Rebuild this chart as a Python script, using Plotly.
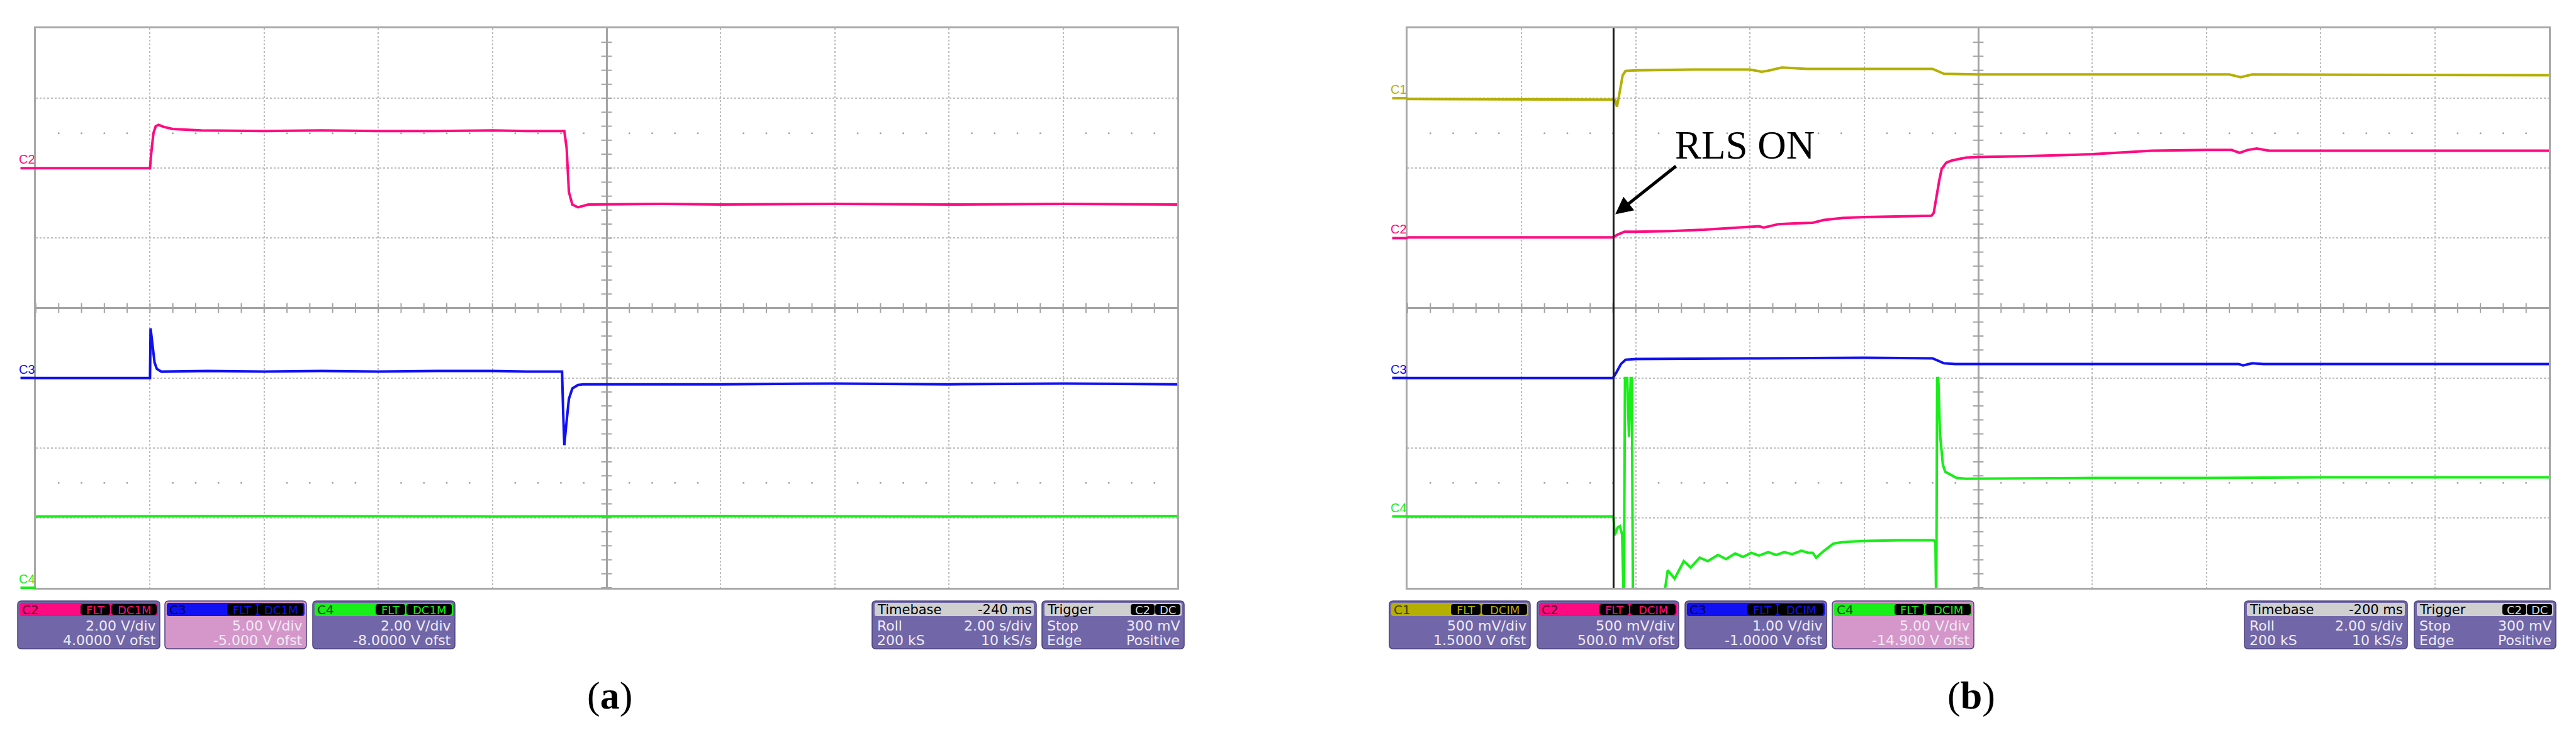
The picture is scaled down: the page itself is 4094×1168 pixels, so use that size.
import numpy as np
import plotly.graph_objects as go

W, H = 4094, 1168

# ---------------- data read off the two scope screens ----------------
# time in s (2 s/div, 0 = screen centre), values in volts

# (a)
a_c2_t = [-10.0, -8.0, -7.98, -7.94, -7.9, -7.85, -7.76, -7.6, -7.1, -6.0, -5.0, -4.0, -3.0, -2.0,
          -1.4, -0.74, -0.70, -0.66, -0.60, -0.50, -0.32, 1.0, 2.0, 4.0, 6.0, 8.0, 10.0]
a_c2_v = [0.0, 0.0, 0.4, 1.0, 1.2, 1.24, 1.18, 1.12, 1.08, 1.06, 1.08, 1.06, 1.06, 1.08,
          1.06, 1.06, 0.58, -0.68, -1.04, -1.12, -1.04, -1.02, -1.04, -1.02, -1.04, -1.02, -1.04]

a_c3_t = [-10.0, -8.0, -7.99, -7.97, -7.95, -7.92, -7.88, -7.8, -7.0, -6.0, -5.0, -4.0, -3.0, -2.0,
          -1.4, -0.78, -0.76, -0.74, -0.71, -0.66, -0.6, -0.5, -0.4, 2.0, 4.0, 6.0, 8.0, 10.0]
a_c3_v = [0.0, 0.0, 3.55, 2.75, 1.9, 1.1, 0.65, 0.45, 0.5, 0.45, 0.5, 0.45, 0.5, 0.5,
          0.45, 0.45, -2.5, -4.8, -3.5, -1.5, -0.75, -0.5, -0.45, -0.45, -0.4, -0.45, -0.4, -0.45]

a_c4_t = [-10.0, -6.0, -2.0, 2.0, 6.0, 10.0]
a_c4_v = [2.04, 2.05, 2.04, 2.05, 2.04, 2.05]

# (b)
b_c1_t = [-10.0, -6.4, -6.36, -6.33, -6.28, -6.23, -6.18, -6.0, -5.0, -4.0, -3.8, -3.7, -3.44,
          -3.0, -2.0, -0.8, -0.6, 0.0, 4.4, 4.6, 4.8, 10.0]
b_c1_v = [-0.005, -0.01, -0.015, -0.06, 0.05, 0.165, 0.195, 0.2, 0.205, 0.205, 0.19, 0.195, 0.22,
          0.21, 0.21, 0.21, 0.175, 0.17, 0.17, 0.15, 0.17, 0.165]

b_c2_t = [-10.0, -6.4, -6.32, -6.2, -6.0, -5.4, -4.8, -4.0, -3.84, -3.76, -3.5, -3.22, -2.9, -2.7,
          -2.36, -2.0, -1.4, -0.82, -0.78, -0.74, -0.68, -0.64, -0.56, -0.46, -0.22, 0.0, 0.78,
          2.0, 3.04, 4.0, 4.44, 4.58, 4.72, 4.88, 5.1, 6.0, 8.0, 10.0]
b_c2_v = [0.005, 0.005, 0.025, 0.045, 0.045, 0.05, 0.06, 0.08, 0.085, 0.075, 0.1, 0.105, 0.11, 0.13,
          0.145, 0.15, 0.155, 0.16, 0.18, 0.285, 0.42, 0.495, 0.54, 0.555, 0.575, 0.58, 0.585,
          0.6, 0.625, 0.63, 0.63, 0.61, 0.63, 0.64, 0.625, 0.625, 0.625, 0.625]

b_c3_t = [-10.0, -6.4, -6.34, -6.26, -6.18, -6.0, -4.0, -2.0, -0.8, -0.74, -0.6, -0.4, 4.56, 4.64,
          4.8, 5.0, 10.0]
b_c3_v = [0.0, 0.0, 0.08, 0.2, 0.26, 0.27, 0.28, 0.29, 0.28, 0.26, 0.21, 0.2, 0.2, 0.18,
          0.21, 0.2, 0.2]

b_c4_t = [-10.0, -6.4, -6.39, -6.37, -6.32, -6.28, -6.24, -6.21, -6.19, -6.15, -6.12, -6.09, -6.07,
          -6.05, -5.54, -5.44, -5.32, -5.16, -5.04, -4.88, -4.74, -4.56, -4.42, -4.26, -4.12,
          -3.98, -3.84, -3.68, -3.54, -3.4, -3.26, -3.1, -2.98, -2.9, -2.84, -2.7, -2.54, -2.4,
          -2.24, -1.96, -1.34, -0.78, -0.75, -0.736, -0.72, -0.7, -0.67, -0.65, -0.62, -0.58,
          -0.5, -0.38, -0.22, 2.0, 4.0, 6.0, 8.0, 10.0]
b_c4_v = [0.0, 0.0, -0.1, -1.35, -0.8, -0.7, -1.3, -6.6, 9.9, 9.9, 5.7, 9.9, 9.9,
          -6.6, -6.6, -3.85, -4.45, -3.2, -3.65, -2.95, -3.2, -2.75, -3.05, -2.65, -2.9,
          -2.6, -2.8, -2.55, -2.75, -2.55, -2.7, -2.45, -2.6, -2.6, -2.95, -2.45, -1.95, -1.85,
          -1.8, -1.75, -1.7, -1.7, -1.9, -6.6, 9.9, 9.9, 5.9, 4.9, 3.7, 3.2,
          3.0, 2.75, 2.7, 2.75, 2.75, 2.8, 2.8, 2.8]

# channel settings (V/div, offset) and the text shown in the boxes
a_names = ["C2", "C3", "C4"]
a_vdiv = [2.0, 5.0, 2.0]
a_ofst = [4.0, -5.0, -8.0]
a_vdiv_txt = ["2.00 V/div", "5.00 V/div", "2.00 V/div"]
a_ofst_txt = ["4.0000 V ofst", "-5.000 V ofst", "-8.0000 V ofst"]

b_names = ["C1", "C2", "C3", "C4"]
b_vdiv = [0.5, 0.5, 1.0, 5.0]
b_ofst = [1.5, 0.5, -1.0, -14.9]
b_vdiv_txt = ["500 mV/div", "500 mV/div", "1.00 V/div", "5.00 V/div"]
b_ofst_txt = ["1.5000 V ofst", "500.0 mV ofst", "-1.0000 V ofst", "-14.900 V ofst"]

a_delay_txt, b_delay_txt = "-240 ms", "-200 ms"
a_trig_t, b_trig_t = 0.0, -0.2       # trigger position markers
trig_level = 0.3                      # 300 mV on C2
b_cursor_t = -6.39                    # "RLS ON" instant

# ---------------- styling ----------------
COL = {"C1": "#B4AF00", "C2": "#FF0A80", "C3": "#1010F5", "C4": "#18EE18"}
DARK = {"C1": "#3F3C00", "C2": "#5E0030", "C3": "#00004A", "C4": "#004A00"}
BODY, SEL, EDGE = "#7167A8", "#D597C9", "#4C427E"
BOXTXT = "#EFECF7"
SCOPE_FONT = "DejaVu Sans"
GRID, AXC, BORDER = "#BDBDBD", "#A3A3A3", "#A8A8A8"

Y_TOP, Y_BOT = 37, 926
PANEL_A = (49, 1863)
PANEL_B = (2229, 4043)

shapes, annots = [], []


def X(x):
    return x / W


def Y(y):
    return 1 - y / H


def rrect(x0, y0, x1, y1, r, fill, line=None, lw=0):
    p = (f"M {X(x0 + r)},{Y(y0)} L {X(x1 - r)},{Y(y0)} Q {X(x1)},{Y(y0)} {X(x1)},{Y(y0 + r)} "
         f"L {X(x1)},{Y(y1 - r)} Q {X(x1)},{Y(y1)} {X(x1 - r)},{Y(y1)} "
         f"L {X(x0 + r)},{Y(y1)} Q {X(x0)},{Y(y1)} {X(x0)},{Y(y1 - r)} "
         f"L {X(x0)},{Y(y0 + r)} Q {X(x0)},{Y(y0)} {X(x0 + r)},{Y(y0)} Z")
    shapes.append(dict(type="path", xref="paper", yref="paper", path=p, fillcolor=fill,
                       line=dict(color=line or fill, width=lw), layer="above"))


def txt(x, y, s, size, color, anchor="right", family=SCOPE_FONT):
    annots.append(dict(xref="paper", yref="paper", x=X(x), y=Y(y), text=s, showarrow=False,
                       xanchor=anchor, yanchor="middle", borderpad=0,
                       font=dict(size=size, color=color, family=family)))


def channel_box(x0, x1, name, vdiv_txt, ofst_txt, selected, badge):
    rrect(x0, 947, x1, 1023, 6, SEL if selected else BODY, EDGE, 1.5)
    rrect(x0 + 3, 950, x1 - 3, 971, 4, COL[name])
    b2 = (x1 - 77, x1 - 5)
    b1 = (b2[0] - 49, b2[0] - 2)
    for bx, lab in ((b1, "FLT"), (b2, badge)):
        rrect(bx[0], 952, bx[1], 969, 4, "black")
        txt((bx[0] + bx[1]) / 2, 961, lab, 18, COL[name], "center")
    txt(x0 + 6, 961, name, 20, DARK[name], "left")
    txt(x1 - 5, 986, vdiv_txt, 22, BOXTXT)
    txt(x1 - 5, 1009, ofst_txt, 22, BOXTXT)


def time_boxes(x0, x1, x2, x3, delay):
    rrect(x0, 947, x1, 1023, 6, BODY, EDGE, 1.5)
    rrect(x0 + 4, 950, x1 - 4, 971, 3, "#CFCFCF")
    txt(x0 + 7, 961, "Timebase", 21, "black", "left")
    txt(x1 - 6, 961, delay, 21, "black")
    txt(x0 + 7, 986, "Roll", 22, BOXTXT, "left")
    txt(x1 - 6, 986, "2.00 s/div", 22, BOXTXT)
    txt(x0 + 7, 1009, "200 kS", 22, BOXTXT, "left")
    txt(x1 - 6, 1009, "10 kS/s", 22, BOXTXT)

    rrect(x2, 947, x3, 1023, 6, BODY, EDGE, 1.5)
    rrect(x2 + 4, 950, x3 - 4, 971, 3, "#CFCFCF")
    txt(x2 + 7, 961, "Trigger", 21, "black", "left")
    for bx, lab in (((x3 - 85, x3 - 47), "C2"), ((x3 - 46, x3 - 6), "DC")):
        rrect(bx[0], 952, bx[1], 969, 4, "black")
        txt((bx[0] + bx[1]) / 2, 961, lab, 18, "#DADADA", "center")
    txt(x2 + 7, 986, "Stop", 22, BOXTXT, "left")
    txt(x3 - 6, 986, "300 mV", 22, BOXTXT)
    txt(x2 + 7, 1009, "Edge", 22, BOXTXT, "left")
    txt(x3 - 6, 1009, "Positive", 22, BOXTXT)


fig = go.Figure()

panels = [
    ("x", "y", a_names, a_vdiv, a_ofst,
     [(a_c2_t, a_c2_v), (a_c3_t, a_c3_v), (a_c4_t, a_c4_v)], a_trig_t),
    ("x2", "y2", b_names, b_vdiv, b_ofst,
     [(b_c1_t, b_c1_v), (b_c2_t, b_c2_v), (b_c3_t, b_c3_v), (b_c4_t, b_c4_v)], b_trig_t),
]

tick_x = np.arange(-10, 10.01, 0.4)
tick_y = np.arange(-4, 4.01, 0.2)
dot_x = [t for t in tick_x if abs(t / 2 - round(t / 2)) > 1e-6]

for xa, ya, names, vdiv, ofst, series, trig_t in panels:
    # centre-axis ticks and the dotted rows at +-2.5 div
    fig.add_trace(go.Scatter(x=tick_x, y=[0] * len(tick_x), mode="markers", xaxis=xa, yaxis=ya,
                             marker=dict(symbol="line-ns", size=11, line=dict(width=2, color=AXC)),
                             hoverinfo="skip", showlegend=False))
    fig.add_trace(go.Scatter(x=[0] * len(tick_y), y=tick_y, mode="markers", xaxis=xa, yaxis=ya,
                             marker=dict(symbol="line-ew", size=12, line=dict(width=2, color=AXC)),
                             hoverinfo="skip", showlegend=False))
    fig.add_trace(go.Scatter(x=dot_x * 2, y=[2.5] * len(dot_x) + [-2.5] * len(dot_x), mode="markers",
                             xaxis=xa, yaxis=ya, marker=dict(size=3, color="#A5A5A5"),
                             hoverinfo="skip", showlegend=False))

    for name, d, o, (t, v) in zip(names, vdiv, ofst, series):
        fig.add_trace(go.Scatter(x=t, y=[(val + o) / d for val in v], mode="lines",
                                 xaxis=xa, yaxis=ya, line=dict(color=COL[name], width=4),
                                 hoverinfo="skip", showlegend=False))
        g = (o / d + 4) / 8
        shapes.append(dict(type="line", xref=xa + " domain", yref=ya + " domain",
                           x0=-0.0135, x1=0, y0=g, y1=g, line=dict(color=COL[name], width=4)))
        annots.append(dict(xref=xa + " domain", yref=ya + " domain", x=-0.0075, y=g, yshift=14,
                           text=name, showarrow=False, xanchor="center", yanchor="middle",
                           font=dict(size=20, color=COL[name], family="Liberation Sans")))

    c2 = names.index("C2")
    fig.add_trace(go.Scatter(x=[10.11], y=[(trig_level + ofst[c2]) / vdiv[c2]], mode="markers",
                             xaxis=xa, yaxis=ya, cliponaxis=False,
                             marker=dict(symbol="triangle-left-open", size=14,
                                         line=dict(width=2, color=COL["C2"])),
                             hoverinfo="skip", showlegend=False))
    fig.add_trace(go.Scatter(x=[trig_t], y=[-4.07], mode="markers", xaxis=xa, yaxis=ya,
                             cliponaxis=False,
                             marker=dict(symbol="triangle-up", size=15, color=COL["C2"]),
                             hoverinfo="skip", showlegend=False))

# RLS ON cursor, arrow and text
shapes.append(dict(type="line", xref="x2", yref="y2", x0=b_cursor_t, x1=b_cursor_t, y0=-4, y1=4,
                   line=dict(color="#1A1A1A", width=3), layer="above"))
annots.append(dict(xref="x2", yref="y2", x=b_cursor_t + 0.03, y=1.34, ax=-5.28, ay=2.04,
                   axref="x2", ayref="y2", text="", showarrow=True, arrowhead=2, arrowsize=1.1,
                   arrowwidth=5, arrowcolor="black", standoff=0))
annots.append(dict(xref="x2", yref="y2", x=-5.34, y=2.33, text="RLS ON", showarrow=False,
                   xanchor="left", yanchor="middle",
                   font=dict(size=63, color="black", family="Liberation Serif")))

# info boxes
for (x0, x1), name, vt, ot, sel in zip([(20, 246), (254, 479), (489, 715)], a_names,
                                       a_vdiv_txt, a_ofst_txt, [False, True, False]):
    channel_box(x0, x1, name, vt, ot, sel, "DC1M")
time_boxes(1378, 1639, 1648, 1874, a_delay_txt)

for (x0, x1), name, vt, ot, sel in zip([(2200, 2424), (2435, 2660), (2670, 2895), (2904, 3129)],
                                       b_names, b_vdiv_txt, b_ofst_txt,
                                       [False, False, False, True]):
    channel_box(x0, x1, name, vt, ot, sel, "DCIM")
time_boxes(3559, 3818, 3829, 4054, b_delay_txt)

# panel captions
txt(961, 1097, "(<b>a</b>)", 62, "black", "center", "Liberation Serif")
txt(3125, 1097, "(<b>b</b>)", 62, "black", "center", "Liberation Serif")

xcommon = dict(range=[-10, 10], dtick=2, tick0=0, showgrid=True, gridcolor=GRID, griddash="dot",
               gridwidth=2, zeroline=True, zerolinecolor=AXC, zerolinewidth=3, showline=True,
               linecolor=BORDER, linewidth=3, mirror=True, showticklabels=False, ticks="")
ycommon = dict(xcommon, range=[-4, 4], dtick=1)
ydom = [Y(Y_BOT), Y(Y_TOP)]

fig.update_layout(
    width=W, height=H,
    margin=dict(l=0, r=0, t=0, b=0),
    paper_bgcolor="white", plot_bgcolor="white",
    xaxis=dict(xcommon, domain=[X(PANEL_A[0]), X(PANEL_A[1])], anchor="y"),
    yaxis=dict(ycommon, domain=ydom, anchor="x"),
    xaxis2=dict(xcommon, domain=[X(PANEL_B[0]), X(PANEL_B[1])], anchor="y2"),
    yaxis2=dict(ycommon, domain=ydom, anchor="x2"),
    shapes=shapes,
    annotations=annots,
    showlegend=False,
)

fig.write_html("out.html")
